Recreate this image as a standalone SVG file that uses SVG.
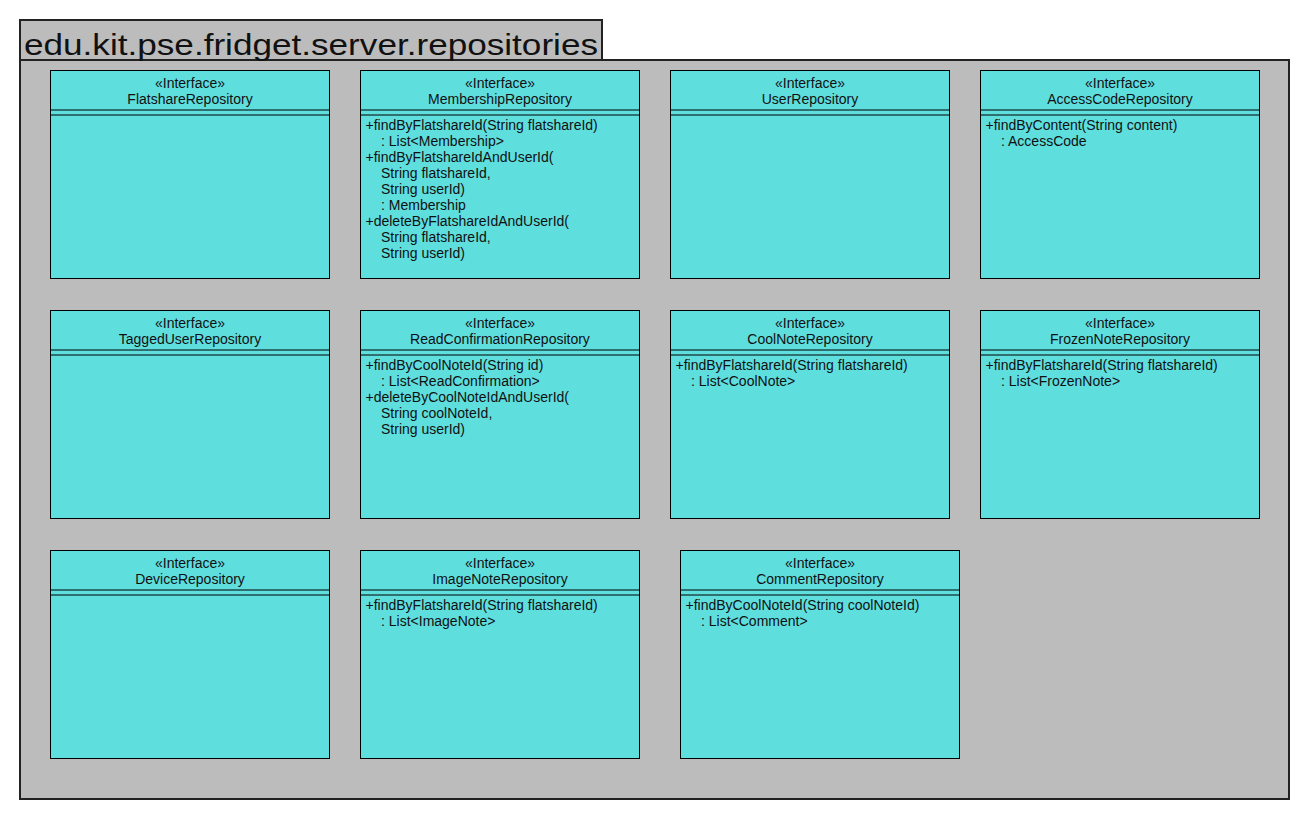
<svg xmlns="http://www.w3.org/2000/svg" width="1310" height="820" viewBox="0 0 1310 820">
<style>
.pkg{fill:#bcbcbc;stroke:#222;stroke-width:2}
.box{fill:#5fdede;stroke:#000;stroke-width:1}
.sep{stroke:#000;stroke-width:1}
text{font-family:"Liberation Sans",Arial,sans-serif;fill:#111}
.t{font-size:30px}
.h{font-size:14px;text-anchor:middle}
.m{font-size:14px}
</style>
<rect width="1310" height="820" fill="#fff"/>
<g id="package">
<rect class="pkg" x="20" y="60" width="1269" height="739"/>
<rect class="pkg" x="20" y="20" width="582" height="40"/>
<text class="t" x="24" y="55" textLength="574" lengthAdjust="spacingAndGlyphs">edu.kit.pse.fridget.server.repositories</text>
</g>
<defs>
<g id="hdr"><line class="sep" x1="0" y1="39.5" x2="279" y2="39.5"/><line class="sep" x1="0" y1="44.5" x2="279" y2="44.5"/></g>
</defs>
<g id="FlatshareRepository" transform="translate(50.5,70.5)">
<rect class="box" width="279" height="208"/><use href="#hdr"/>
<text class="h" x="139.5" y="17.5">«Interface»</text><text class="h" x="139.5" y="33.5">FlatshareRepository</text>
</g>
<g id="MembershipRepository" transform="translate(360.5,70.5)">
<rect class="box" width="279" height="208"/><use href="#hdr"/>
<text class="h" x="139.5" y="17.5">«Interface»</text><text class="h" x="139.5" y="33.5">MembershipRepository</text>
<text class="m" x="5" y="59.5">+findByFlatshareId(String flatshareId)</text>
<text class="m" x="20.5" y="75.5">: List&lt;Membership&gt;</text>
<text class="m" x="5" y="91.5">+findByFlatshareIdAndUserId(</text>
<text class="m" x="20.5" y="107.5">String flatshareId,</text>
<text class="m" x="20.5" y="123.5">String userId)</text>
<text class="m" x="20.5" y="139.5">: Membership</text>
<text class="m" x="5" y="155.5">+deleteByFlatshareIdAndUserId(</text>
<text class="m" x="20.5" y="171.5">String flatshareId,</text>
<text class="m" x="20.5" y="187.5">String userId)</text>
</g>
<g id="UserRepository" transform="translate(670.5,70.5)">
<rect class="box" width="279" height="208"/><use href="#hdr"/>
<text class="h" x="139.5" y="17.5">«Interface»</text><text class="h" x="139.5" y="33.5">UserRepository</text>
</g>
<g id="AccessCodeRepository" transform="translate(980.5,70.5)">
<rect class="box" width="279" height="208"/><use href="#hdr"/>
<text class="h" x="139.5" y="17.5">«Interface»</text><text class="h" x="139.5" y="33.5">AccessCodeRepository</text>
<text class="m" x="5" y="59.5">+findByContent(String content)</text>
<text class="m" x="20.5" y="75.5">: AccessCode</text>
</g>
<g id="TaggedUserRepository" transform="translate(50.5,310.5)">
<rect class="box" width="279" height="208"/><use href="#hdr"/>
<text class="h" x="139.5" y="17.5">«Interface»</text><text class="h" x="139.5" y="33.5">TaggedUserRepository</text>
</g>
<g id="ReadConfirmationRepository" transform="translate(360.5,310.5)">
<rect class="box" width="279" height="208"/><use href="#hdr"/>
<text class="h" x="139.5" y="17.5">«Interface»</text><text class="h" x="139.5" y="33.5">ReadConfirmationRepository</text>
<text class="m" x="5" y="59.5">+findByCoolNoteId(String id)</text>
<text class="m" x="20.5" y="75.5">: List&lt;ReadConfirmation&gt;</text>
<text class="m" x="5" y="91.5">+deleteByCoolNoteIdAndUserId(</text>
<text class="m" x="20.5" y="107.5">String coolNoteId,</text>
<text class="m" x="20.5" y="123.5">String userId)</text>
</g>
<g id="CoolNoteRepository" transform="translate(670.5,310.5)">
<rect class="box" width="279" height="208"/><use href="#hdr"/>
<text class="h" x="139.5" y="17.5">«Interface»</text><text class="h" x="139.5" y="33.5">CoolNoteRepository</text>
<text class="m" x="5" y="59.5">+findByFlatshareId(String flatshareId)</text>
<text class="m" x="20.5" y="75.5">: List&lt;CoolNote&gt;</text>
</g>
<g id="FrozenNoteRepository" transform="translate(980.5,310.5)">
<rect class="box" width="279" height="208"/><use href="#hdr"/>
<text class="h" x="139.5" y="17.5">«Interface»</text><text class="h" x="139.5" y="33.5">FrozenNoteRepository</text>
<text class="m" x="5" y="59.5">+findByFlatshareId(String flatshareId)</text>
<text class="m" x="20.5" y="75.5">: List&lt;FrozenNote&gt;</text>
</g>
<g id="DeviceRepository" transform="translate(50.5,550.5)">
<rect class="box" width="279" height="208"/><use href="#hdr"/>
<text class="h" x="139.5" y="17.5">«Interface»</text><text class="h" x="139.5" y="33.5">DeviceRepository</text>
</g>
<g id="ImageNoteRepository" transform="translate(360.5,550.5)">
<rect class="box" width="279" height="208"/><use href="#hdr"/>
<text class="h" x="139.5" y="17.5">«Interface»</text><text class="h" x="139.5" y="33.5">ImageNoteRepository</text>
<text class="m" x="5" y="59.5">+findByFlatshareId(String flatshareId)</text>
<text class="m" x="20.5" y="75.5">: List&lt;ImageNote&gt;</text>
</g>
<g id="CommentRepository" transform="translate(680.5,550.5)">
<rect class="box" width="279" height="208"/><use href="#hdr"/>
<text class="h" x="139.5" y="17.5">«Interface»</text><text class="h" x="139.5" y="33.5">CommentRepository</text>
<text class="m" x="5" y="59.5">+findByCoolNoteId(String coolNoteId)</text>
<text class="m" x="20.5" y="75.5">: List&lt;Comment&gt;</text>
</g>
<g id="connectors"></g>
</svg>
